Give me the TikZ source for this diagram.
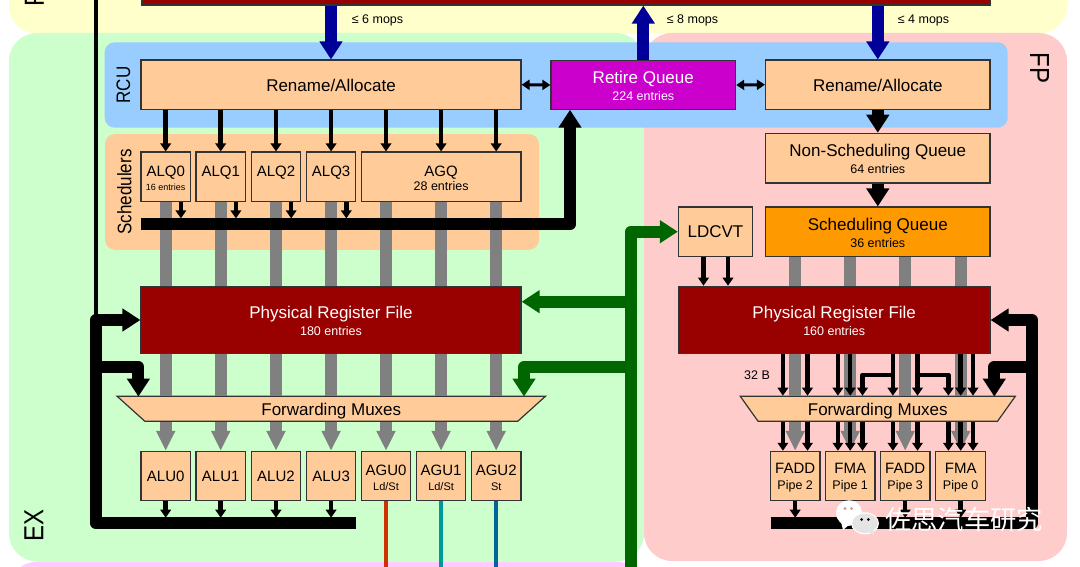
\documentclass[tikz,border=0pt]{standalone}
\usepackage{fontspec}
\setmainfont{Liberation Sans}
\newfontfamily\cjkfont{Noto Sans CJK SC}
\usetikzlibrary{arrows.meta,shapes.geometric}
\definecolor{feyellow}{HTML}{FFFFCC}
\definecolor{exgreen}{HTML}{CCFFCC}
\definecolor{fpred}{HTML}{FFCCCC}
\definecolor{lspink}{HTML}{FFCCFF}
\definecolor{rcublue}{HTML}{99CCFF}
\definecolor{unitfill}{HTML}{FFCC99}
\definecolor{regred}{HTML}{990000}
\definecolor{retirefill}{HTML}{CC00CC}
\definecolor{schedfill}{HTML}{FF9900}
\definecolor{unitline}{HTML}{333333}
\definecolor{stalkgrey}{HTML}{808080}
\definecolor{mopblue}{HTML}{000099}
\definecolor{loadgreen}{HTML}{006600}
\definecolor{ldred}{HTML}{CC3300}
\definecolor{ldteal}{HTML}{009999}
\definecolor{stblue}{HTML}{006699}
\definecolor{bubblegrey}{HTML}{E4E4E4}
\definecolor{dotpink}{HTML}{C9A0A0}
\newcommand{\bigfont}{\fontsize{17}{19}\selectfont}
\newcommand{\midfont}{\fontsize{15}{16.5}\selectfont}
\newcommand{\subfont}{\fontsize{12.5}{14}\selectfont}
\newcommand{\tinyfont}{\fontsize{9}{10}\selectfont}
\newcommand{\loadfont}{\fontsize{11}{12}\selectfont}
\newcommand{\bigstrut}{\rule{0pt}{14.5pt}}
\newcommand{\midstrut}{\rule{0pt}{14pt}}
\newcommand{\sidetext}[1]{\scalebox{1}[1.15]{#1}}
\tikzset{
  region/.style={rounded corners=28, inner sep=0},
  panel/.style={rounded corners=10, inner sep=0},
  unit/.style={draw=unitline, line width=1.2, fill=unitfill, inner sep=0, align=center, font=\bigfont},
  regfile/.style={unit, fill=regred, text=white},
  muxbox/.style={unit, trapezium, shape border rotate=180, trapezium stretches=true, trapezium angle=50, text height=12.4pt, text depth=0pt},
  small/.style={unit, font=\midfont},
  sidelabel/.style={rotate=90, font=\fontsize{17}{19}\selectfont},
  bigside/.style={sidelabel, font=\fontsize{24}{26}\selectfont},
  mops/.style={font=\fontsize{12.5}{14}\selectfont},
  fatarrow/.style={line width=12, line join=round, -{Triangle[width=22pt,length=18pt]}},
  stalk/.style={draw=stalkgrey, line width=12},
  stalkarrow/.style={stalk, -{Triangle[width=18pt,length=20pt]}},
  thinarrow/.style={line width=4.5, line join=round, -{Triangle[width=10.5pt,length=8pt]}},
  twoway/.style={line width=3, {Triangle[width=10pt,length=8pt]}-{Triangle[width=10pt,length=8pt]}},
  resultline/.style={line width=4.5}
}
\begin{document}
\begin{tikzpicture}[x=1pt,y=-1pt]
\useasboundingbox (0,0) rectangle (1080,567);
% regions
\node[region, fill=feyellow, minimum width=1058, minimum height=113.5] (fe) at (538,-23) {};
\node[region, fill=exgreen, minimum width=635, minimum height=528.5] (ex) at (326.5,297.25) {};
\node[region, fill=fpred, minimum width=423, minimum height=528] (fp) at (855.5,297) {};
\node[region, fill=lspink, minimum width=635, minimum height=100] (ls) at (326.5,611.7) {};
\node[panel, fill=rcublue, minimum width=903, minimum height=85.4] (rcu) at (556.2,85) {};
\node[panel, fill=unitfill, minimum width=434, minimum height=115.7] (sched) at (322,191.9) {};
% units
\node[regfile, minimum width=848, minimum height=30] (decode) at (566,-10) {};
\node[unit, text height=14pt, text depth=0pt, minimum width=380, minimum height=49.3] (renamei) at (331,84.7) {Rename/Allocate};
\node[unit, fill=retirefill, text=white, minimum width=184.6, minimum height=48.3] (retire) at (643.3,85) {\bigstrut Retire Queue\\[-2pt]{\subfont 224 entries}};
\node[unit, text height=14pt, text depth=0pt, minimum width=224.5, minimum height=49.3] (renamej) at (877.8,84.7) {Rename/Allocate};
\node[unit, minimum width=224.5, minimum height=49.7] (nonsched) at (877.8,158.2) {\bigstrut Non-Scheduling Queue\\[-2pt]{\subfont 64 entries}};
\node[unit, fill=schedfill, minimum width=224.5, minimum height=49.3] (schedq) at (877.8,231.7) {\bigstrut Scheduling Queue\\[-2pt]{\subfont 36 entries}};
\node[unit, minimum width=74.1, minimum height=49.3] (ldcvt) at (715.5,231.7) {LDCVT};
\node[small, minimum width=49.5, minimum height=49.3] (alq0) at (165.7,176.7) {\midstrut ALQ0\\[-3pt]{\tinyfont 16 entries}};
\node[small, minimum width=49.5, minimum height=49.3] (alq1) at (220.7,176.7) {\midstrut ALQ1\\[-3pt]{\tinyfont\phantom{0}}};
\node[small, minimum width=49.5, minimum height=49.3] (alq2) at (276,176.7) {\midstrut ALQ2\\[-3pt]{\tinyfont\phantom{0}}};
\node[small, minimum width=49.5, minimum height=49.3] (alq3) at (331.1,176.7) {\midstrut ALQ3\\[-3pt]{\tinyfont\phantom{0}}};
\node[small, minimum width=159.8, minimum height=49.3] (agq) at (441.1,176.7) {\midstrut AGQ\\[-2pt]{\subfont 28 entries}};
\node[regfile, minimum width=380, minimum height=67.4] (prfi) at (331,320) {\bigstrut Physical Register File\\[-2pt]{\subfont 180 entries}};
\node[regfile, minimum width=311.6, minimum height=67.4] (prfj) at (834.2,320) {\bigstrut Physical Register File\\[-2pt]{\subfont 160 entries}};
\node[muxbox, minimum width=429.3, minimum height=25] (muxi) at (331.3,408.8) {Forwarding Muxes};
\node[muxbox, minimum width=275.7, minimum height=25] (muxj) at (877.8,408.8) {Forwarding Muxes};
\node[small, minimum width=49.5, minimum height=49.3] (alu0) at (165.7,476) {ALU0};
\node[small, minimum width=49.5, minimum height=49.3] (alu1) at (220.7,476) {ALU1};
\node[small, minimum width=49.5, minimum height=49.3] (alu2) at (276,476) {ALU2};
\node[small, minimum width=49.5, minimum height=49.3] (alu3) at (331.1,476) {ALU3};
\node[small, minimum width=49.5, minimum height=49.3] (agu0) at (386,476) {\midstrut AGU0\\[-1.3pt]{\loadfont Ld/St}};
\node[small, minimum width=49.5, minimum height=49.3] (agu1) at (441.1,476) {\midstrut AGU1\\[-1.3pt]{\loadfont Ld/St}};
\node[small, minimum width=49.5, minimum height=49.3] (agu2) at (496.2,476) {\midstrut AGU2\\[-1.3pt]{\loadfont St}};
\node[small, minimum width=49.7, minimum height=49.3] (fadd2) at (795.2,476) {\midstrut FADD\\{\subfont Pipe 2}};
\node[small, minimum width=49.7, minimum height=49.3] (fma1) at (850.2,476) {\midstrut FMA\\{\subfont Pipe 1}};
\node[small, minimum width=49.7, minimum height=49.3] (fadd3) at (905.2,476) {\midstrut FADD\\{\subfont Pipe 3}};
\node[small, minimum width=49.7, minimum height=49.3] (fma0) at (960.7,476) {\midstrut FMA\\{\subfont Pipe 0}};
% labels
\node[bigside, anchor=west] (felabel) at (34.5,10) {\sidetext{F}};
\node[bigside] (exlabel) at (34,525) {\sidetext{EX}};
\node[bigside, rotate=180] (fplabel) at (1039.5,68) {\sidetext{FP}};
\node[sidelabel] (rculabel) at (123.5,85) {\sidetext{RCU}};
\node[sidelabel] (schedlabel) at (124.5,192) {\sidetext{Schedulers}};
\node[mops] (mopsa) at (377.5,20.5) {≤ 6 mops};
\node[mops] (mopsb) at (692.5,20.5) {≤ 8 mops};
\node[mops] (mopsc) at (923.5,20.5) {≤ 4 mops};
\node[mops] (widthlabel) at (757,375) {32 B};
% mops in and out
\draw[fatarrow, mopblue] (decode.south -| renamei.north) -- (renamei.north);
\draw[fatarrow, mopblue] (retire.north) -- (decode.south -| retire.north);
\draw[fatarrow, mopblue] (decode.south -| renamej.north) -- (renamej.north);
\draw[twoway] (renamei.east) -- (retire.west);
\draw[twoway] (retire.east) -- (renamej.west);
\draw[fatarrow] (renamej.south) -- (nonsched.north);
\draw[fatarrow] (nonsched.south) -- (schedq.north);
% rename to schedulers
\draw[thinarrow] (alq0.north |- renamei.south) -- (alq0.north);
\draw[thinarrow] (alq1.north |- renamei.south) -- (alq1.north);
\draw[thinarrow] (alq2.north |- renamei.south) -- (alq2.north);
\draw[thinarrow] (alq3.north |- renamei.south) -- (alq3.north);
\draw[thinarrow] (agu0.north |- renamei.south) -- (agu0.north |- agq.north);
\draw[thinarrow] (agu1.north |- renamei.south) -- (agu1.north |- agq.north);
\draw[thinarrow] (agu2.north |- renamei.south) -- (agu2.north |- agq.north);
% grey stalks, integer side
\draw[stalk] (alq0.south) -- (alq0.south |- prfi.north);
\draw[stalk] (alq1.south) -- (alq1.south |- prfi.north);
\draw[stalk] (alq2.south) -- (alq2.south |- prfi.north);
\draw[stalk] (alq3.south) -- (alq3.south |- prfi.north);
\draw[stalk] (agu0.north |- agq.south) -- (agu0.north |- prfi.north);
\draw[stalk] (agu1.north |- agq.south) -- (agu1.north |- prfi.north);
\draw[stalk] (agu2.north |- agq.south) -- (agu2.north |- prfi.north);
\draw[stalk] (alu0.north |- prfi.south) -- (alu0.north |- muxi.north);
\draw[stalk] (alu1.north |- prfi.south) -- (alu1.north |- muxi.north);
\draw[stalk] (alu2.north |- prfi.south) -- (alu2.north |- muxi.north);
\draw[stalk] (alu3.north |- prfi.south) -- (alu3.north |- muxi.north);
\draw[stalk] (agu0.north |- prfi.south) -- (agu0.north |- muxi.north);
\draw[stalk] (agu1.north |- prfi.south) -- (agu1.north |- muxi.north);
\draw[stalk] (agu2.north |- prfi.south) -- (agu2.north |- muxi.north);
\draw[stalkarrow] (alu0.north |- muxi.south) -- (alu0.north);
\draw[stalkarrow] (alu1.north |- muxi.south) -- (alu1.north);
\draw[stalkarrow] (alu2.north |- muxi.south) -- (alu2.north);
\draw[stalkarrow] (alu3.north |- muxi.south) -- (alu3.north);
\draw[stalkarrow] (agu0.north |- muxi.south) -- (agu0.north);
\draw[stalkarrow] (agu1.north |- muxi.south) -- (agu1.north);
\draw[stalkarrow] (agu2.north |- muxi.south) -- (agu2.north);
% scheduler bus to retire
\coordinate (schedl) at (141,224.3);
\coordinate (schedc) at (570,224.3);
\coordinate (schedtop) at (141,218.4);
\draw[fatarrow] (schedl) -- (schedc) -- (retire.south -| schedc);
\draw[thinarrow] ([xshift=15.2]alq0.south) -- ([xshift=15.2]alq0.south |- schedtop);
\draw[thinarrow] ([xshift=15.2]alq1.south) -- ([xshift=15.2]alq1.south |- schedtop);
\draw[thinarrow] ([xshift=15.2]alq2.south) -- ([xshift=15.2]alq2.south |- schedtop);
\draw[thinarrow] ([xshift=15.2]alq3.south) -- ([xshift=15.2]alq3.south |- schedtop);
% integer results
\coordinate (exbusr) at (355.7,523.3);
\coordinate (exbusl) at (96,523.3);
\coordinate (exbustop) at (141,517.7);
\coordinate (extap) at (96,367);
\coordinate (exland) at (138.4,396.6);
\coordinate (fetop) at (96,0);
\draw[resultline] (fetop) -- (exbusl |- prfi.west);
\draw[fatarrow] (exbusr) -- (exbusl) |- (prfi.west);
\draw[fatarrow] (extap) -| (exland);
\draw[thinarrow] (alu0.south) -- (alu0.south |- exbustop);
\draw[thinarrow] (alu1.south) -- (alu1.south |- exbustop);
\draw[thinarrow] (alu2.south) -- (alu2.south |- exbustop);
\draw[thinarrow] (alu3.south) -- (alu3.south |- exbustop);
% load and store lines
\coordinate (lsbottom) at (386,570);
\draw[line width=4.5, ldred] (agu0.south) -- (agu0.south |- lsbottom);
\draw[line width=4.5, ldteal] (agu1.south) -- (agu1.south |- lsbottom);
\draw[line width=4.5, stblue] (agu2.south) -- (agu2.south |- lsbottom);
% load data
\coordinate (gbottom) at (631,570);
\coordinate (gtapa) at (631,301.7);
\coordinate (gtapb) at (631,367);
\coordinate (gland) at (524,396.6);
\draw[fatarrow, loadgreen] (gbottom) |- (ldcvt.west);
\draw[fatarrow, loadgreen] (gtapa) -- (gtapa -| prfi.east);
\draw[fatarrow, loadgreen] (gtapb) -| (gland);
% fp stalks
\draw[stalk] (fadd2.north |- schedq.south) -- (fadd2.north |- prfj.north);
\draw[stalk] (fma1.north |- schedq.south) -- (fma1.north |- prfj.north);
\draw[stalk] (fadd3.north |- schedq.south) -- (fadd3.north |- prfj.north);
\draw[stalk] (fma0.north |- schedq.south) -- (fma0.north |- prfj.north);
\draw[stalk] (fadd2.north |- prfj.south) -- (fadd2.north |- muxj.north);
\draw[stalk] (fma1.north |- prfj.south) -- (fma1.north |- muxj.north);
\draw[stalk] (fadd3.north |- prfj.south) -- (fadd3.north |- muxj.north);
\draw[stalk] (fma0.north |- prfj.south) -- (fma0.north |- muxj.north);
\draw[stalkarrow] (fadd2.north |- muxj.south) -- (fadd2.north);
\draw[stalkarrow] (fma1.north |- muxj.south) -- (fma1.north);
\draw[stalkarrow] (fadd3.north |- muxj.south) -- (fadd3.north);
\draw[stalkarrow] (fma0.north |- muxj.south) -- (fma0.north);
\draw[thinarrow] ([xshift=-12]ldcvt.south) -- ([xshift=-12]ldcvt.south |- prfj.north);
\draw[thinarrow] ([xshift=12.5]ldcvt.south) -- ([xshift=12.5]ldcvt.south |- prfj.north);
% fp operands
\coordinate (cha) at ([xshift=-12.3]fadd2.north);
\coordinate (chb) at ([xshift=12.3]fadd2.north);
\coordinate (chc) at ([xshift=-12.3]fma1.north);
\coordinate (chd) at (fma1.north);
\coordinate (che) at ([xshift=12.3]fma1.north);
\coordinate (chf) at ([xshift=-12.3]fadd3.north);
\coordinate (chg) at ([xshift=12.3]fadd3.north);
\coordinate (chh) at ([xshift=-12.3]fma0.north);
\coordinate (chi) at (fma0.north);
\coordinate (chj) at ([xshift=12.3]fma0.north);
\coordinate (branchy) at (0,375);
\draw[thinarrow] (cha |- prfj.south) -- (cha |- muxj.north);
\draw[thinarrow] (chb |- prfj.south) -- (chb |- muxj.north);
\draw[thinarrow] (chc |- prfj.south) -- (chc |- muxj.north);
\draw[thinarrow] (chd |- prfj.south) -- (chd |- muxj.north);
\draw[thinarrow] (chf |- prfj.south) -- (chf |- muxj.north);
\draw[thinarrow] (chg |- prfj.south) -- (chg |- muxj.north);
\draw[thinarrow] (chi |- prfj.south) -- (chi |- muxj.north);
\draw[thinarrow] (chj |- prfj.south) -- (chj |- muxj.north);
\draw[thinarrow] (chf |- branchy) -| (che |- muxj.north);
\draw[thinarrow] (chg |- branchy) -| (chh |- muxj.north);
\draw[thinarrow] (cha |- muxj.south) -- (cha);
\draw[thinarrow] (chb |- muxj.south) -- (chb);
\draw[thinarrow] (chc |- muxj.south) -- (chc);
\draw[thinarrow] (chd |- muxj.south) -- (chd);
\draw[thinarrow] (che |- muxj.south) -- (che);
\draw[thinarrow] (chf |- muxj.south) -- (chf);
\draw[thinarrow] (chg |- muxj.south) -- (chg);
\draw[thinarrow] (chh |- muxj.south) -- (chh);
\draw[thinarrow] (chi |- muxj.south) -- (chi);
\draw[thinarrow] (chj |- muxj.south) -- (chj);
% fp results
\coordinate (fpbusl) at (770.7,523.3);
\coordinate (fpbusr) at (1032,523.3);
\coordinate (fpbustop) at (770.7,517.7);
\coordinate (fptap) at (1032,367);
\coordinate (fpland) at (994.3,396.6);
\draw[fatarrow] (fpbusl) -- (fpbusr) |- (prfj.east);
\draw[fatarrow] (fptap) -| (fpland);
\draw[thinarrow] (fadd2.south) -- (fadd2.south |- fpbustop);
\draw[thinarrow] (fma1.south) -- (fma1.south |- fpbustop);
\draw[thinarrow] (fadd3.south) -- (fadd3.south |- fpbustop);
\draw[thinarrow] (fma0.south) -- (fma0.south |- fpbustop);
% watermark
\fill[white] (849,513) ellipse [x radius=13, y radius=12.8];
\fill[white] (841,522) -- (843,530) -- (850,524) -- cycle;
\fill[dotpink] (845,508.5) circle [radius=1.6];
\fill[dotpink] (851.5,508.5) circle [radius=1.6];
\fill[white] (865,523.3) ellipse [x radius=14, y radius=11];
\fill[bubblegrey] (865,523.3) ellipse [x radius=12.8, y radius=9.8];
\fill[bubblegrey] (868,531) -- (874,535.5) -- (873,528) -- cycle;
\fill[black] (861.7,519.5) circle [radius=1.5];
\fill[black] (868.3,519.5) circle [radius=1.5];
\node[text=white, font=\cjkfont\fontsize{26.3}{28}\selectfont, inner sep=0] (mark) at (964,519) {佐思汽车研究};
\end{tikzpicture}
\end{document}
